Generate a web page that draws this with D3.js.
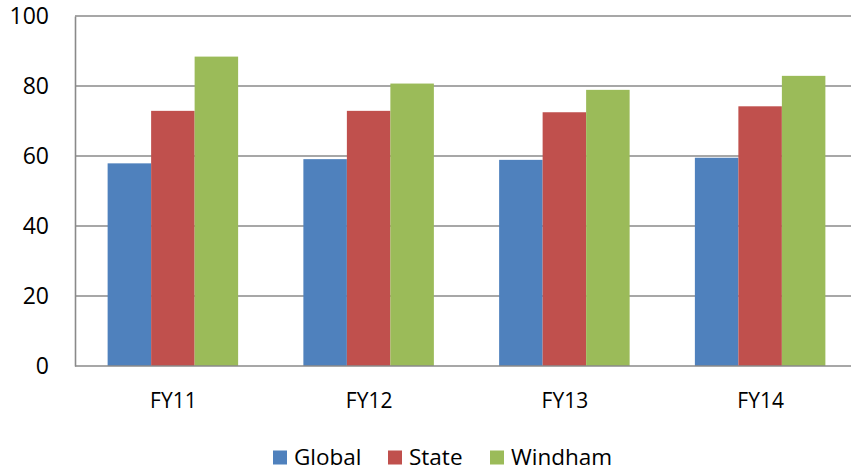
<!DOCTYPE html>
<html>
<head>
<meta charset="utf-8">
<script src="https://cdn.jsdelivr.net/npm/d3@7"></script>
<style>
  html, body { margin: 0; padding: 0; background: #fff; }
  svg { display: block; }
  text { font-family: "Open Sans", "Liberation Sans", sans-serif; fill: #000; }
</style>
</head>
<body>
<svg id="chart" width="851" height="471"></svg>
<script>
// Fiscal years on the x axis
const categories = ["FY11", "FY12", "FY13", "FY14"];
// Series names, in legend order
const seriesNames = ["Global", "State", "Windham"];
// Values per series, one per fiscal year
const globalValues = [57.9, 59.1, 58.9, 59.5];
const stateValues = [72.9, 72.9, 72.5, 74.2];
const windhamValues = [88.4, 80.7, 78.9, 82.9];
// Y axis ticks
const yTicks = [0, 20, 40, 60, 80, 100];

const seriesValues = [globalValues, stateValues, windhamValues];
const colors = ["#4F81BD", "#C0504D", "#9BBB59"];

const svg = d3.select("#chart");

const plotLeft = 75, plotRight = 858, plotTop = 16, plotBottom = 366;

const y = d3.scaleLinear().domain([0, 100]).range([plotBottom, plotTop]);
const x0 = d3.scaleBand()
  .domain(categories)
  .range([plotLeft, plotRight])
  .paddingInner(1 / 3)
  .paddingOuter(1 / 6);
const x1 = d3.scaleBand()
  .domain(seriesNames)
  .range([0, x0.bandwidth()]);
const color = d3.scaleOrdinal().domain(seriesNames).range(colors);

// Horizontal gridlines
svg.append("g")
  .selectAll("line")
  .data(yTicks.filter(d => d > 0))
  .join("line")
  .attr("x1", plotLeft).attr("x2", 851)
  .attr("y1", d => y(d)).attr("y2", d => y(d))
  .attr("stroke", "#8a8a8a")
  .attr("stroke-width", 1.6);

// Bars
const rows = categories.map((c, i) => ({
  cat: c,
  vals: seriesNames.map((s, j) => ({ name: s, value: seriesValues[j][i] }))
}));

svg.append("g")
  .selectAll("g")
  .data(rows)
  .join("g")
  .attr("transform", d => `translate(${x0(d.cat)},0)`)
  .selectAll("rect")
  .data(d => d.vals)
  .join("rect")
  .attr("x", d => x1(d.name))
  .attr("y", d => y(d.value))
  .attr("width", x1.bandwidth())
  .attr("height", d => y(0) - y(d.value))
  .attr("fill", d => color(d.name));

// Y axis line and labels
const yAxis = d3.axisLeft(y).tickValues(yTicks).tickSize(0).tickPadding(26);
const yg = svg.append("g").attr("transform", `translate(${plotLeft},0)`).call(yAxis);
yg.select(".domain").attr("stroke", "#8a8a8a").attr("stroke-width", 1.6);
yg.selectAll("text")
  .style("font-family", "'Open Sans', sans-serif")
  .style("font-size", "23px")
  .attr("fill", "#000");

// X axis baseline and category labels
const xAxis = d3.axisBottom(d3.scalePoint().domain(categories)
  .range([x0(categories[0]) + x0.bandwidth() / 2, x0(categories[3]) + x0.bandwidth() / 2]))
  .tickSize(0).tickPadding(27);
const xg = svg.append("g").attr("transform", `translate(0,${plotBottom})`).call(xAxis);
xg.select(".domain").remove();
xg.selectAll("text")
  .style("font-family", "'Open Sans', sans-serif")
  .style("font-size", "21px")
  .attr("fill", "#000");
svg.append("line")
  .attr("x1", plotLeft).attr("x2", 851)
  .attr("y1", plotBottom).attr("y2", plotBottom)
  .attr("stroke", "#8a8a8a").attr("stroke-width", 1.6);

// Legend
const legendX = [273, 388, 490];
const legend = svg.append("g")
  .selectAll("g")
  .data(seriesNames)
  .join("g")
  .attr("transform", (d, i) => `translate(${legendX[i]},0)`);
legend.append("rect")
  .attr("x", 0).attr("y", 450.5)
  .attr("width", 14).attr("height", 14)
  .attr("fill", d => color(d));
legend.append("text")
  .attr("x", 21).attr("y", 465)
  .style("font-size", "22.5px")
  .text(d => d);
</script>
</body>
</html>
